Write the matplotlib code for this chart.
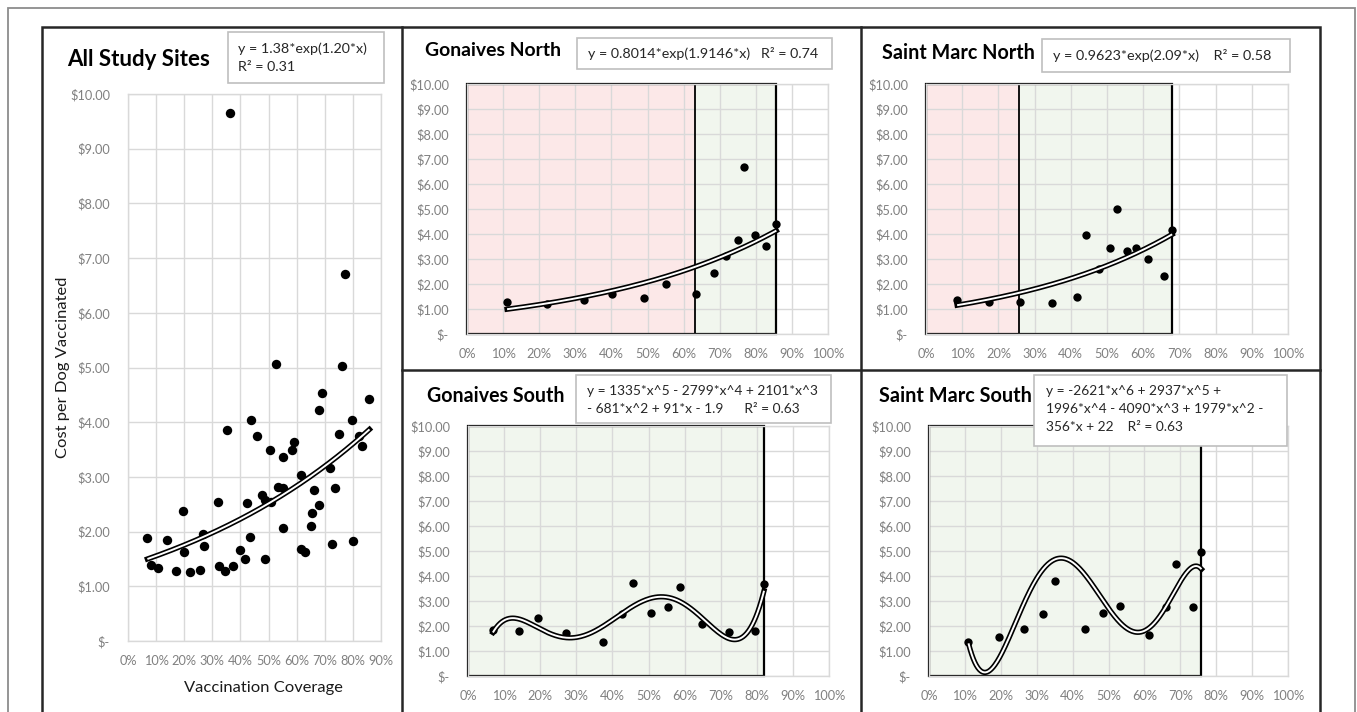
import numpy as np
import matplotlib
matplotlib.use("Agg")
import matplotlib.pyplot as plt
from matplotlib.patches import Rectangle
from matplotlib.lines import Line2D
from matplotlib.ticker import FuncFormatter, MultipleLocator

# ---------------- data ----------------
all_x = [6.9, 8.1, 10.8, 13.9, 16.9, 19.4, 19.9, 22.0, 25.7, 26.6, 27.1, 32.0, 32.2, 34.6, 35.1,
         36.4, 37.5, 39.8, 41.6, 42.3, 43.5, 43.9, 45.9, 47.6, 48.8, 48.8, 50.5, 50.7, 52.6, 53.2,
         55.2, 55.3, 55.2, 58.3, 58.9, 61.4, 61.5, 63.1, 65.0, 65.5, 66.3, 67.8, 68.1, 69.0, 71.8,
         72.4, 73.6, 75.0, 76.0, 77.1, 79.8, 79.9, 82.0, 83.2, 85.9]
all_y = [1.89, 1.39, 1.33, 1.84, 1.28, 2.37, 1.62, 1.26, 1.29, 1.95, 1.73, 2.54, 1.38, 1.28, 3.86,
         9.65, 1.38, 1.66, 1.50, 2.53, 1.90, 4.04, 3.75, 2.66, 1.50, 2.58, 3.50, 2.55, 5.07, 2.82,
         2.79, 3.37, 2.06, 3.50, 3.63, 3.03, 1.68, 1.62, 2.10, 2.34, 2.76, 4.23, 2.48, 4.53, 3.16,
         1.78, 2.79, 3.79, 5.03, 6.71, 4.04, 1.82, 3.74, 3.56, 4.43]

gn_x = [11.1, 22.2, 32.3, 40.2, 48.9, 55.1, 63.5, 68.3, 71.8, 75.0, 76.8, 79.7, 82.9, 85.7]
gn_y = [1.30, 1.22, 1.35, 1.60, 1.45, 2.00, 1.60, 2.45, 3.12, 3.75, 6.70, 3.97, 3.52, 4.40]

smn_x = [8.6, 17.3, 26.1, 34.8, 41.8, 44.3, 47.9, 50.7, 52.7, 55.5, 58.1, 61.4, 65.7, 68.0]
smn_y = [1.38, 1.28, 1.28, 1.25, 1.50, 3.98, 2.62, 3.46, 5.02, 3.34, 3.46, 2.99, 2.32, 4.18]

gs_x = [6.9, 14.1, 19.4, 27.2, 37.5, 42.6, 45.7, 50.7, 55.3, 58.8, 64.9, 72.3, 79.5, 82.0]
gs_y = [1.85, 1.82, 2.33, 1.72, 1.36, 2.50, 3.73, 2.52, 2.75, 3.58, 2.07, 1.78, 1.80, 3.70]

sms_x = [11.0, 19.6, 26.5, 31.7, 35.0, 43.4, 48.6, 53.1, 61.4, 66.1, 68.8, 73.4, 75.9]
sms_y = [1.35, 1.58, 1.90, 2.50, 3.82, 1.88, 2.52, 2.80, 1.65, 2.75, 4.47, 2.76, 4.97]

# trendlines: exponential a*exp(b*x) as printed on the chart
all_fit = (1.38, 1.20)
gn_fit = (0.8014, 1.9146)
smn_fit = (0.9623, 2.09)
gs_degree = 5                                                # polynomial fitted to the points
# printed 6th-order polynomial (constant term estimated unrounded from the drawn curve)
sms_coef = [-2621, 2937, 1996, -4090, 1979, -356, 21.63]

# coverage thresholds of the shaded zones (%)
gn_red_end = 63.2
smn_red_end = 25.8

titles = ["All Study Sites", "Gonaives North", "Saint Marc North", "Gonaives South", "Saint Marc South"]
equations = [
    "y = 1.38*exp(1.20*x)\nR\u00b2 = 0.31",
    "y = 0.8014*exp(1.9146*x)   R\u00b2 = 0.74",
    "y = 0.9623*exp(2.09*x)    R\u00b2 = 0.58",
    "y = 1335*x^5 - 2799*x^4 + 2101*x^3\n- 681*x^2 + 91*x - 1.9      R\u00b2 = 0.63",
    "y = -2621*x^6 + 2937*x^5 +\n1996*x^4 - 4090*x^3 + 1979*x^2 -\n356*x + 22    R\u00b2 = 0.63",
]
y_ticks = [0, 1, 2, 3, 4, 5, 6, 7, 8, 9, 10]

# ---------------- figure ----------------
W, H = 1357, 712
fig = plt.figure(figsize=(W / 100, H / 100), dpi=100)
plt.rcParams['font.family'] = ['Lato', 'DejaVu Sans']
FONT = ['Lato', 'DejaVu Sans']
renderer = fig.canvas.get_renderer()

RED = '#fce8e8'
GREEN = '#f1f6ee'
GRID = '#d9d9d9'
TICKC = '#808080'


def fit_fs(s, target_px, fs0=10.0, **kw):
    t = fig.text(0, 0, s, fontsize=fs0, family=FONT, **kw)
    w = t.get_window_extent(renderer).width
    t.remove()
    return fs0 * target_px / w


TICK_FS = fit_fs("$10.00", 40)


def fx(x):
    return x / W


def fy(y):
    return 1 - y / H


def px_axes(x0, y0, x1, y1):
    return fig.add_axes([fx(x0), fy(y1), (x1 - x0) / W, (y1 - y0) / H])


def fig_line(xs, ys, color, lw):
    fig.add_artist(Line2D([fx(v) for v in xs], [fy(v) for v in ys], color=color, lw=lw,
                          transform=fig.transFigure, zorder=5))


def title(s, x, y, width):
    fs = fit_fs(s, width, fontweight='bold')
    fig.text(fx(x), fy(y), s, fontsize=fs, fontweight='bold', family=FONT,
             ha='left', va='center', color='black')


def eq_box(x0, y0, x1, y1, text, tx, ty, ref_line, ref_width, ls=1.6):
    fig.add_artist(Rectangle((fx(x0), fy(y1)), (x1 - x0) / W, (y1 - y0) / H,
                             transform=fig.transFigure, facecolor='white',
                             edgecolor='#bfbfbf', lw=1.2, zorder=6))
    fs = fit_fs(ref_line, ref_width)
    fig.text(fx(tx), fy(ty), text, ha='left', va='center', fontsize=fs, color='#262626',
             family=FONT, linespacing=ls, zorder=7)


def style_axes(ax, xmax):
    ax.set_xlim(0, xmax)
    ax.set_ylim(0, 10)
    ax.set_yticks(y_ticks)
    ax.xaxis.set_major_locator(MultipleLocator(10))
    ax.yaxis.set_major_formatter(FuncFormatter(lambda v, p: "$-" if v == 0 else f"${v:.2f}"))
    ax.xaxis.set_major_formatter(FuncFormatter(lambda v, p: f"{v:.0f}%"))
    ax.grid(True, color=GRID, lw=1.0)
    ax.set_axisbelow(True)
    for s in ax.spines.values():
        s.set_color(GRID)
        s.set_linewidth(1.0)
    ax.tick_params(length=0, labelsize=TICK_FS, labelcolor=TICKC)
    ax.tick_params(axis='x', pad=10)
    ax.tick_params(axis='y', pad=13)
    for lab in ax.get_xticklabels() + ax.get_yticklabels():
        lab.set_family(FONT)


def double_line(ax, xs, ys):
    ax.plot(xs, ys, color='black', lw=3.8, solid_capstyle='projecting', zorder=4)
    ax.plot(xs, ys, color='white', lw=1.4, solid_capstyle='butt', zorder=5)


def scatter(ax, x, y, s):
    ax.scatter(x, y, s=s, color='black', zorder=3, linewidths=0)


def zone(ax, x0, x1, color):
    ax.add_patch(Rectangle((x0, 0), x1 - x0, 10, facecolor=color, edgecolor='none', zorder=0.2))


def zone_border(ax, x1, mid=None):
    ax.add_patch(Rectangle((0, 0), x1, 10, fill=False, edgecolor='black', lw=1.6, zorder=2,
                           clip_on=False))
    if mid is not None:
        ax.plot([mid, mid], [0, 10], color='black', lw=1.3, zorder=2)


def exp_curve(x, fit):
    xs = np.linspace(min(x), max(x), 200)
    return xs, fit[0] * np.exp(fit[1] * xs / 100.0)


def polyfit_curve(x, y, deg):
    xa = np.asarray(x) / 100.0
    coef = np.polyfit(xa, np.asarray(y), deg)
    xs = np.linspace(xa.min(), xa.max(), 300)
    return xs * 100, np.polyval(coef, xs)


def poly_curve(x, coef):
    xs = np.linspace(min(x), max(x), 300) / 100.0
    return xs * 100, np.polyval(coef, xs)


# ---------- frames ----------
fig.add_artist(Rectangle((fx(8), fy(730)), (1355 - 8) / W, (730 - 8) / H, fill=False,
                         edgecolor='#8c8c8c', lw=1.3, transform=fig.transFigure, zorder=5))
fig.add_artist(Rectangle((fx(42), fy(730)), (1320 - 42) / W, (730 - 27) / H, fill=False,
                         edgecolor='#262626', lw=1.8, transform=fig.transFigure, zorder=5))
fig_line([402, 402], [27, 730], '#262626', 1.8)
fig_line([861, 861], [27, 730], '#262626', 1.8)
fig_line([402, 1320], [370.5, 370.5], '#262626', 1.8)

# ---------- All study sites ----------
ax0 = px_axes(128, 94, 381, 641)
style_axes(ax0, 90)
scatter(ax0, all_x, all_y, 46)
double_line(ax0, *exp_curve(all_x, all_fit))
title(titles[0], 67, 59, 143)
eq_box(228, 32, 384, 83, equations[0], 238, 58, "y = 1.38*exp(1.20*x)", 129)
fs_y = fit_fs("Cost per Dog Vaccinated", 181)
fig.text(fx(63), fy(367), "Cost per Dog Vaccinated", rotation=90, fontsize=fs_y,
         family=FONT, ha='center', va='center', color='#1a1a1a')
fs_x = fit_fs("Vaccination Coverage", 158)
fig.text(fx(263), fy(688), "Vaccination Coverage", fontsize=fs_x, family=FONT,
         ha='center', va='center', color='#1a1a1a')

# ---------- Gonaives North ----------
ax1 = px_axes(467, 84, 828, 334)
style_axes(ax1, 100)
zone(ax1, 0, gn_red_end, RED)
zone(ax1, gn_red_end, max(gn_x), GREEN)
zone_border(ax1, max(gn_x), gn_red_end)
scatter(ax1, gn_x, gn_y, 36)
double_line(ax1, *exp_curve(gn_x, gn_fit))
title(titles[1], 425, 51, 137)
eq_box(577, 38, 832, 69, equations[1], 588, 53.5, equations[1], 230)

# ---------- Saint Marc North ----------
ax2 = px_axes(926, 84, 1288, 334)
style_axes(ax2, 100)
zone(ax2, 0, smn_red_end, RED)
zone(ax2, smn_red_end, max(smn_x), GREEN)
zone_border(ax2, max(smn_x), smn_red_end)
scatter(ax2, smn_x, smn_y, 36)
double_line(ax2, *exp_curve(smn_x, smn_fit))
title(titles[2], 882, 53, 152)
eq_box(1042, 39, 1290, 72, equations[2], 1053, 55, equations[2], 219)

# ---------- Gonaives South ----------
ax3 = px_axes(468, 426, 829, 676)
style_axes(ax3, 100)
zone(ax3, 0, max(gs_x), GREEN)
zone_border(ax3, max(gs_x))
scatter(ax3, gs_x, gs_y, 36)
double_line(ax3, *polyfit_curve(gs_x, gs_y, gs_degree))
title(titles[3], 427, 396, 138)
eq_box(576, 375, 831, 423, equations[3], 587, 400, "y = 1335*x^5 - 2799*x^4 + 2101*x^3", 231)

# ---------- Saint Marc South ----------
ax4 = px_axes(929, 426, 1288, 676)
style_axes(ax4, 100)
zone(ax4, 0, max(sms_x), GREEN)
zone_border(ax4, max(sms_x))
scatter(ax4, sms_x, sms_y, 36)
double_line(ax4, *poly_curve(sms_x, sms_coef))
title(titles[4], 879, 396, 152)
eq_box(1034, 375, 1287, 446, equations[4], 1046, 409.5, "1996*x^4 - 4090*x^3 + 1979*x^2 -", 217)

fig.savefig("out.png", dpi=100, facecolor='white')
